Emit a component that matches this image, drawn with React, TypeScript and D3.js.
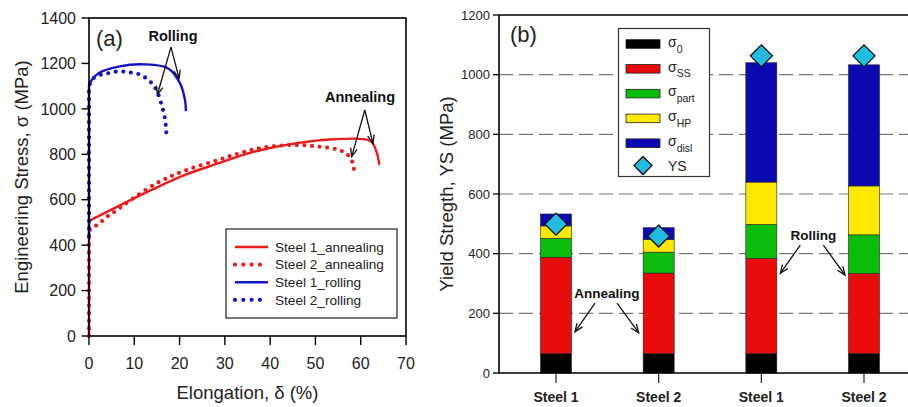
import React from "react";
import * as d3 from "d3";

// ---------- Panel (a) data: engineering stress-strain curves ----------
const s1AnnealX = [0, 0, 0.6, 2.1, 6.5, 13.8, 21.2, 28.5, 34.4, 38.5, 45.9, 53.2, 60.6, 62.4, 63.5, 64.1];
const s1AnnealY = [0, 503, 512, 528, 572, 643, 709, 760, 800, 821, 849, 865, 867, 855, 811, 753];
const s2AnnealX = [0, 0, 0.5, 2.1, 3.7, 5.2, 14.6, 21.2, 28.5, 33.3, 38.5, 45.9, 51, 54.7, 56.5, 57.8, 58.4, 58.7];
const s2AnnealY = [0, 460, 475, 492, 521, 541, 669, 728, 775, 805, 830, 841, 833, 822, 807, 782, 745, 709];
const s1RollX = [0, 0, 0.6, 2.1, 6.5, 12.4, 17.5, 20.1, 21.2, 21.4];
const s1RollY = [440, 1100, 1127, 1157, 1186, 1196, 1178, 1112, 1039, 990];
const s2RollX = [0, 0, 1, 2.4, 4.3, 6.1, 7.6, 9.4, 11.1, 12.7, 14.2, 15.2, 15.9, 16.4, 16.8, 17.0, 17.1];
const s2RollY = [440, 1100, 1135, 1149, 1157, 1164, 1164, 1159, 1152, 1134, 1105, 1069, 1027, 992, 954, 917, 880];

const curveNames = ["Steel 1_annealing", "Steel 2_annealing", "Steel 1_rolling", "Steel 2_rolling"];
const xTicksA = [0, 10, 20, 30, 40, 50, 60, 70];
const yTicksA = [0, 200, 400, 600, 800, 1000, 1200, 1400];

// ---------- Panel (b) data: yield strength contributions ----------
const barCategories = ["Steel 1", "Steel 2", "Steel 1", "Steel 2"];
const sigma0 = [65, 65, 65, 65];
const sigmaSS = [323, 270, 319, 268];
const sigmaPart = [63, 70, 114, 130];
const sigmaHP = [42, 43, 142, 164];
const sigmaDisl = [40, 39, 400, 406];
const ysMeasured = [499, 459, 1063, 1063];
const componentSubs = ["0", "SS", "part", "HP", "disl"];
const yTicksB = [0, 200, 400, 600, 800, 1000, 1200];

const RED = "#ec1c1c";
const BLUE = "#1414c4";
const barColors = ["#000000", "#e80c0c", "#0cbc0c", "#ffe800", "#0a0ab0"];
const DIAMOND = "#22bce0";
const FONT = "'Liberation Sans', Arial, Helvetica, sans-serif";

function Arrow({ x1, y1, x2, y2 }: { x1: number; y1: number; x2: number; y2: number }) {
  const ang = Math.atan2(y2 - y1, x2 - x1);
  const L = 9;
  const a = 0.38;
  const p1 = [x2 - L * Math.cos(ang - a), y2 - L * Math.sin(ang - a)];
  const p2 = [x2 - L * Math.cos(ang + a), y2 - L * Math.sin(ang + a)];
  return (
    <g stroke="#111" strokeWidth={1.3} fill="none">
      <line x1={x1} y1={y1} x2={x2} y2={y2} />
      <path d={`M${p1[0]},${p1[1]} L${x2},${y2} L${p2[0]},${p2[1]}`} />
    </g>
  );
}

export default function App() {
  // Panel (a) scales
  const xA = d3.scaleLinear().domain([0, 70]).range([89, 406]);
  const yA = d3.scaleLinear().domain([0, 1400]).range([336, 18]);
  const smooth = d3
    .line<[number, number]>()
    .x((d) => xA(d[0]))
    .y((d) => yA(d[1]))
    .curve(d3.curveCatmullRom.alpha(0.5));
  const zip = (xs: number[], ys: number[]) => xs.map((x, i) => [x, ys[i]] as [number, number]);
  // straight elastic segment along the axis, then a smooth plastic part
  const curvePath = (xs: number[], ys: number[]) => {
    const pts = zip(xs, ys);
    const rest = smooth(pts.slice(1)) || "";
    return `M${xA(pts[0][0])},${yA(pts[0][1])}L` + rest.slice(1);
  };
  const curves = [
    { name: curveNames[0], d: curvePath(s1AnnealX, s1AnnealY), color: RED, dotted: false },
    { name: curveNames[1], d: curvePath(s2AnnealX, s2AnnealY), color: RED, dotted: true },
    { name: curveNames[2], d: curvePath(s1RollX, s1RollY), color: BLUE, dotted: false },
    { name: curveNames[3], d: curvePath(s2RollX, s2RollY), color: BLUE, dotted: true },
  ];

  // Panel (b) scales
  const idx = barCategories.map((_, i) => String(i));
  const xB = d3.scalePoint<string>().domain(idx).range([556, 864]);
  const yB = d3.scaleLinear().domain([0, 1200]).range([373, 15]);
  const barW = 31;
  const rows = barCategories.map((_, i) => ({
    id: String(i),
    c0: sigma0[i],
    c1: sigmaSS[i],
    c2: sigmaPart[i],
    c3: sigmaHP[i],
    c4: sigmaDisl[i],
  }));
  const stack = d3.stack<any>().keys(["c0", "c1", "c2", "c3", "c4"])(rows);
  const bx = (i: number) => xB(String(i)) as number;

  const diamond = (cx: number, cy: number, r: number) =>
    `M${cx},${cy - r} L${cx + r},${cy} L${cx},${cy + r} L${cx - r},${cy} Z`;

  return (
    <svg
      width={908}
      height={407}
      style={{ position: "absolute", left: 0, top: 0, background: "#fff" }}
      fontFamily={FONT}
    >
      <rect x={0} y={0} width={908} height={407} fill="#fff" />
      {/* ================= Panel (a) ================= */}
      <g>
        {curves.map((c) => (
          <path
            key={c.name}
            d={c.d}
            fill="none"
            stroke={c.color}
            strokeWidth={c.dotted ? 4.2 : 2.4}
            strokeDasharray={c.dotted ? "0 7.6" : undefined}
            strokeLinecap={c.dotted ? "round" : "butt"}
            strokeLinejoin="round"
          />
        ))}
        <rect x={89} y={18} width={317} height={318} fill="none" stroke="#000" strokeWidth={1.6} />
        {yTicksA.map((t) => (
          <g key={"ya" + t}>
            <line x1={81.5} x2={89} y1={yA(t)} y2={yA(t)} stroke="#000" strokeWidth={1.4} />
            <text x={76} y={yA(t)} dy="0.36em" textAnchor="end" fontSize={16} fill="#222">
              {t}
            </text>
          </g>
        ))}
        {xTicksA.map((t) => (
          <g key={"xa" + t}>
            <line x1={xA(t)} x2={xA(t)} y1={336} y2={345} stroke="#000" strokeWidth={1.4} />
            <text x={xA(t)} y={363} dy="0.36em" textAnchor="middle" fontSize={16} fill="#222">
              {t}
            </text>
          </g>
        ))}
        <text x={xA(35)} y={392} dy="0.36em" textAnchor="middle" fontSize={18.5} fill="#222">
          Elongation, δ (%)
        </text>
        <text
          transform={`translate(21,${(18 + 336) / 2}) rotate(-90)`}
          dy="0.36em"
          textAnchor="middle"
          fontSize={18.5}
          fill="#222"
        >
          Engineering Stress, σ (MPa)
        </text>
        <text x={96} y={38} dy="0.36em" fontSize={22} fill="#222">
          (a)
        </text>
        {/* annotations */}
        <text x={173} y={36} dy="0.36em" textAnchor="middle" fontSize={14.5} fontWeight="bold" fill="#111">
          Rolling
        </text>
        <Arrow x1={xA(18.1)} y1={yA(1272)} x2={xA(15.1)} y2={yA(1062)} />
        <Arrow x1={xA(18.1)} y1={yA(1272)} x2={xA(19.9)} y2={yA(1134)} />
        <text x={360} y={97} dy="0.36em" textAnchor="middle" fontSize={14.5} fontWeight="bold" fill="#111">
          Annealing
        </text>
        <Arrow x1={xA(60.9)} y1={yA(995)} x2={xA(58)} y2={yA(790)} />
        <Arrow x1={xA(60.9)} y1={yA(995)} x2={xA(62.7)} y2={yA(848)} />
        {/* legend */}
        <rect x={226} y={229} width={171} height={89} fill="#fff" stroke="#222" strokeWidth={1.2} />
        {curves.map((c, i) => {
          const y = 247 + i * 17.6;
          return (
            <g key={"lg" + i}>
              <line
                x1={235}
                x2={c.dotted ? 262 : 268}
                y1={y}
                y2={y}
                stroke={c.color}
                strokeWidth={c.dotted ? 4.2 : 2.6}
                strokeDasharray={c.dotted ? "0 8.3" : undefined}
                strokeLinecap={c.dotted ? "round" : "butt"}
              />
              <text x={275} y={y} dy="0.36em" fontSize={13.6} fill="#222">
                {c.name}
              </text>
            </g>
          );
        })}
      </g>

      {/* ================= Panel (b) ================= */}
      <g>
        {yTicksB
          .filter((t) => t > 0 && t < 1200)
          .map((t) => (
            <line
              key={"gb" + t}
              x1={499}
              x2={908}
              y1={yB(t)}
              y2={yB(t)}
              stroke="#777"
              strokeWidth={1.2}
              strokeDasharray="14 6"
            />
          ))}
        {stack.map((layer, li) =>
          layer.map((seg, i) => (
            <rect
              key={`s${li}-${i}`}
              x={bx(i) - barW / 2}
              y={yB(seg[1])}
              width={barW}
              height={yB(seg[0]) - yB(seg[1])}
              fill={barColors[li]}
              stroke="#222"
              strokeWidth={0.6}
            />
          ))
        )}
        {ysMeasured.map((v, i) => (
          <path key={"ys" + i} d={diamond(bx(i), yB(v), 11)} fill={DIAMOND} stroke="#111" strokeWidth={1.3} />
        ))}
        <line x1={499} x2={908} y1={15} y2={15} stroke="#000" strokeWidth={1.6} />
        <line x1={499} x2={908} y1={373} y2={373} stroke="#000" strokeWidth={1.6} />
        <line x1={499} x2={499} y1={15} y2={373} stroke="#000" strokeWidth={1.6} />
        {yTicksB.map((t) => (
          <g key={"yb" + t}>
            <line x1={493} x2={499} y1={yB(t)} y2={yB(t)} stroke="#000" strokeWidth={1.3} />
            <text x={490} y={yB(t)} dy="0.36em" textAnchor="end" fontSize={13} fill="#222">
              {t}
            </text>
          </g>
        ))}
        {barCategories.map((c, i) => (
          <g key={"xb" + i}>
            <line x1={bx(i)} x2={bx(i)} y1={373} y2={383} stroke="#333" strokeWidth={1.3} />
            <text x={bx(i)} y={397} dy="0.36em" textAnchor="middle" fontSize={14} fontWeight="bold" fill="#222">
              {c}
            </text>
          </g>
        ))}
        <text
          transform={`translate(446,${(15 + 373) / 2}) rotate(-90)`}
          dy="0.36em"
          textAnchor="middle"
          fontSize={18.5}
          fill="#222"
        >
          Yield Stregth, YS (MPa)
        </text>
        <text x={510} y={34} dy="0.36em" fontSize={22} fill="#222">
          (b)
        </text>
        {/* legend */}
        <rect x={618.5} y={28.5} width={91} height={148} fill="#fff" stroke="#333" strokeWidth={1.2} />
        {componentSubs.map((s, i) => {
          const y = 44 + i * 24.8;
          return (
            <g key={"lb" + i}>
              <rect x={626} y={y - 4.3} width={34} height={8.6} fill={barColors[i]} stroke="#222" strokeWidth={0.8} />
              <text x={668} y={y} dy="0.2em" fontSize={14} fill="#222">
                σ
                <tspan fontSize={10.5} dy="0.55em">
                  {s}
                </tspan>
              </text>
            </g>
          );
        })}
        <path d={diamond(643, 165.5, 9)} fill={DIAMOND} stroke="#111" strokeWidth={1.3} />
        <text x={668} y={165.5} dy="0.36em" fontSize={14} fill="#222">
          YS
        </text>
        {/* annotations */}
        <text x={bx(2) + 52} y={yB(463)} dy="0.36em" textAnchor="middle" fontSize={13.5} fontWeight="bold" fill="#111">
          Rolling
        </text>
        <Arrow x1={bx(2) + 39} y1={yB(429)} x2={bx(2) + 19} y2={yB(334)} />
        <Arrow x1={bx(2) + 62} y1={yB(429)} x2={bx(3) - 19} y2={yB(328)} />
        <text x={bx(0) + 51} y={yB(269)} dy="0.36em" textAnchor="middle" fontSize={13.5} fontWeight="bold" fill="#111">
          Annealing
        </text>
        <Arrow x1={bx(0) + 39} y1={yB(234)} x2={bx(0) + 19} y2={yB(138)} />
        <Arrow x1={bx(0) + 61} y1={yB(234)} x2={bx(1) - 20} y2={yB(135)} />
      </g>
    </svg>
  );
}
